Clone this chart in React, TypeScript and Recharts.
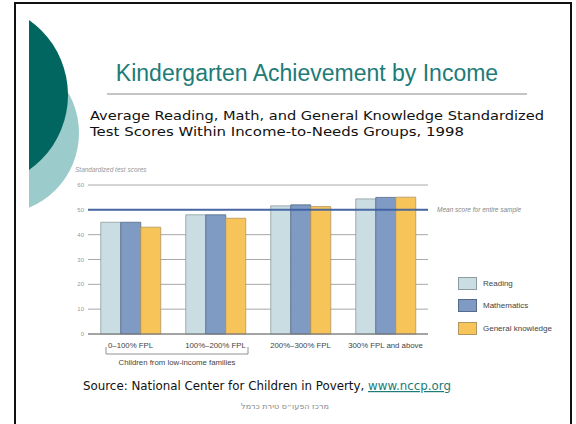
import React from 'react';
import { BarChart, Bar, XAxis, YAxis, CartesianGrid, ReferenceLine } from 'recharts';

const groups = ['0–100% FPL', '100%–200% FPL', '200%–300% FPL', '300% FPL and above'];
const reading = [45, 48, 51.6, 54.4];
const math = [45, 48, 52, 55];
const general = [43, 46.6, 51.3, 55.1];
const yTicks = [0, 10, 20, 30, 40, 50, 60];
const meanScore = 50;

const series = [
  { key: 'reading', name: 'Reading', fill: '#cadde2', stroke: '#8c9ca0' },
  { key: 'math', name: 'Mathematics', fill: '#7f9bc4', stroke: '#55698a' },
  { key: 'general', name: 'General knowledge', fill: '#f7c45a', stroke: '#b19660' },
];

const data = groups.map((g, i) => ({
  name: g,
  reading: reading[i],
  math: math[i],
  general: general[i],
}));

const chartFont = '"Liberation Sans Narrow", "Liberation Sans", Arial, sans-serif';
const slideFont = '"DejaVu Sans", Verdana, sans-serif';

const XTick = (props: any) => {
  const { x, y, payload } = props;
  return (
    <text x={x} y={y + 12} textAnchor="middle" fontSize={7.8} fill="#444" fontFamily={chartFont}>
      {payload.value}
    </text>
  );
};

const MeanLabel = (props: any) => {
  const vb = props.viewBox || {};
  return (
    <text
      x={vb.x + vb.width + 9}
      y={vb.y + 2}
      fontSize={6.5}
      fontStyle="italic"
      fill="#888"
      fontFamily={chartFont}
    >
      Mean score for entire sample
    </text>
  );
};

// legend kept outside the chart so it doesn't eat into the plot width
const LegendBox = () => (
  <div style={{ position: 'absolute', left: 458, top: 277, fontFamily: chartFont, fontSize: 8, color: '#444' }}>
    {series.map((s) => (
      <div key={s.key} style={{ display: 'flex', alignItems: 'center', height: 12, marginBottom: 10.5 }}>
        <div
          style={{
            width: 17,
            height: 11,
            background: s.fill,
            border: `1px solid ${s.stroke}`,
            marginRight: 6,
          }}
        />
        <span>{s.name}</span>
      </div>
    ))}
  </div>
);

export default function App() {
  return (
    <div style={{ position: 'absolute', left: 0, top: 0, width: 576, height: 424, background: '#fff', overflow: 'hidden' }}>
      <svg width={576} height={424} style={{ position: 'absolute', left: 0, top: 0 }}>
        <defs>
          <clipPath id="leftEdge">
            <rect x={29} y={0} width={200} height={424} />
          </clipPath>
        </defs>
        <g clipPath="url(#leftEdge)">
          <circle cx={-2} cy={133} r={81} fill="#9bcccb" />
          <circle cx={-23.6} cy={95} r={91.6} fill="#00665f" />
        </g>
        <rect x={15} y={3} width={556} height={440} fill="none" stroke="#111" strokeWidth={2} />
        <text x={307} y={81} textAnchor="middle" fontSize={23} fill="#1d7b78" fontFamily='"Liberation Sans", Arial, sans-serif'>
          Kindergarten Achievement by Income
        </text>
        <line x1={107} y1={94} x2={527} y2={94} stroke="#8a8a8a" strokeWidth={1} />
        <text x={90} y={120} fontSize={13} fill="#111" fontFamily={slideFont} textLength={454} lengthAdjust="spacingAndGlyphs">
          Average Reading, Math, and General Knowledge Standardized
        </text>
        <text x={90} y={136} fontSize={13} fill="#111" fontFamily={slideFont} textLength={374} lengthAdjust="spacingAndGlyphs">
          Test Scores Within Income-to-Needs Groups, 1998
        </text>
        <text x={75} y={172} fontSize={6.5} fontStyle="italic" fill="#999" fontFamily={chartFont}>
          Standardized test scores
        </text>
        <path d="M106,347 V354 H248 V347" fill="none" stroke="#777" strokeWidth={0.8} />
        <text x={177} y={365} textAnchor="middle" fontSize={7.8} fill="#444" fontFamily={chartFont}>
          Children from low-income families
        </text>
        <text x={83} y={390} fontSize={12} fill="#111" fontFamily={slideFont} textLength={368} lengthAdjust="spacingAndGlyphs">
          Source: National Center for Children in Poverty,{' '}
          <tspan fill="#1d7b78" textDecoration="underline">www.nccp.org</tspan>
        </text>
        <text x={285} y={409} textAnchor="middle" fontSize={8} fill="#888" fontFamily={slideFont} direction="rtl">
          מרכז הפעו״ס טירת כרמל
        </text>
      </svg>
      <div style={{ position: 'absolute', left: 0, top: 0 }}>
        <BarChart
          width={576}
          height={424}
          data={data}
          margin={{ top: 185, right: 148, bottom: 70, left: 48 }}
          barCategoryGap="15%"
          barGap={0}
        >
          <CartesianGrid horizontal vertical={false} stroke="#a8a8a8" strokeWidth={1} />
          <XAxis
            dataKey="name"
            height={20}
            axisLine={{ stroke: '#777', strokeWidth: 1.2 }}
            tickLine={false}
            tickSize={0}
            tick={<XTick />}
            interval={0}
          />
          <YAxis
            width={40}
            domain={[0, 60]}
            ticks={yTicks}
            axisLine={false}
            tickLine={false}
            tickSize={0}
            tickMargin={4}
            tick={{ fontSize: 6, fill: '#999', fontFamily: chartFont }}
          />
          {series.map((s) => (
            <Bar
              key={s.key}
              dataKey={s.key}
              name={s.name}
              fill={s.fill}
              stroke={s.stroke}
              strokeWidth={0.8}
              isAnimationActive={false}
            />
          ))}
          <ReferenceLine y={meanScore} stroke="#3b5da0" strokeWidth={2} strokeOpacity={0.9} label={<MeanLabel />} />
        </BarChart>
      </div>
      <LegendBox />
    </div>
  );
}
